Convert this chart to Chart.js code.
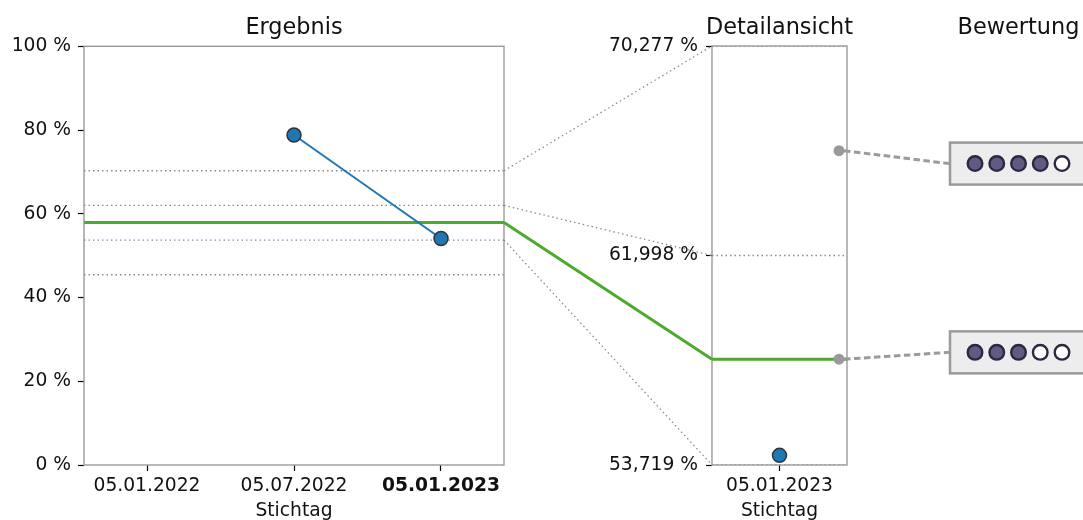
<!DOCTYPE html>
<html><head><meta charset="utf-8">
<script src="https://cdn.jsdelivr.net/npm/chart.js@4/dist/chart.umd.min.js"></script>
<style>
html,body{margin:0;padding:0;background:#fff;}
#wrap{position:relative;width:1083px;height:520px;overflow:hidden;background:#fff;}
#wrap canvas{position:absolute;left:0;top:0;}
</style></head><body>
<div id="wrap"><canvas id="main" width="1083" height="520"></canvas><canvas id="detail" width="1083" height="520"></canvas></div>
<script>
// ---- data ----
const dateLabels = ['05.01.2022', '05.07.2022', '05.01.2023'];
const resultDateIndex = [1, 2];
const resultValues = [78.8, 54.1];
const benchmarkValue = 57.9;
const bandLimits = [70.277, 61.998, 53.719, 45.44];
const mainYTicks = [0, 20, 40, 60, 80, 100];
const mainYTickLabels = ['0 %', '20 %', '40 %', '60 %', '80 %', '100 %'];
const detailYTicks = [53.719, 61.998, 70.277];
const detailYTickLabels = ['53,719 %', '61,998 %', '70,277 %'];
const detailDateLabels = ['05.01.2023'];
const detailResultValues = [54.1];
const ratingMarkerValues = [66.14, 57.9];
const ratingBoxValues = [65.63, 58.17];
const ratingScores = [4, 3];
const ratingMax = 5;
const titles = ['Ergebnis', 'Detailansicht', 'Bewertung'];
const axisTitle = 'Stichtag';

// ---- style ----
const FAM = "'DejaVu Sans', sans-serif";
const TXT = '#111';
const GREEN = '#4caa2e';
const BLUE = '#1f77b4';
const GRAY = '#8c8c8c';
const FRAME = '#9a9a9a';
const tickFont = {family: FAM, size: 18.7, lineHeight: 1.2};
const titleFont = {family: FAM, size: 22.4, weight: 'normal', lineHeight: 1.2};

const mainXMin = -0.4286, mainXMax = 2.4286;
const detXMin = -0.5, detXMax = 0.5;
const detMarkerX = 0.4407;
const boxX = 1.263;

const framePlugin = {
  id: 'frame',
  beforeDatasetsDraw(chart) {
    const a = chart.chartArea, ctx = chart.ctx;
    ctx.save();
    ctx.strokeStyle = FRAME; ctx.lineWidth = 1.4;
    ctx.strokeRect(a.left, a.top, a.right - a.left, a.bottom - a.top);
    ctx.restore();
  }
};

function axisCommon(extra) {
  return Object.assign({
    grid: {drawOnChartArea: false, drawTicks: true, tickLength: 6, tickColor: '#000', tickWidth: 1.2},
    border: {display: false}
  }, extra);
}

const mainChart = new Chart(document.getElementById('main'), {
  type: 'line',
  data: {datasets: [
    ...bandLimits.map(v => ({order: 3, data: [{x: mainXMin, y: v}, {x: mainXMax, y: v}], borderColor: GRAY, borderWidth: 1.3, borderDash: [1.5, 3], pointRadius: 0})),
    {order: 2, data: [{x: mainXMin, y: benchmarkValue}, {x: mainXMax, y: benchmarkValue}], borderColor: GREEN, borderWidth: 3, pointRadius: 0},
    {order: 0, data: resultDateIndex.map((d, i) => ({x: d, y: resultValues[i]})), borderColor: BLUE, borderWidth: 2, pointRadius: 7, pointBackgroundColor: BLUE, pointBorderColor: '#333', pointBorderWidth: 1.5}
  ]},
  options: {
    responsive: false, animation: false, devicePixelRatio: 1,
    events: [],
    layout: {padding: {left: 0, right: 1083 - 504, top: 14.4, bottom: 0}},
    plugins: {
      legend: {display: false}, tooltip: {enabled: false},
      title: {display: true, text: titles[0], fullSize: false, font: titleFont, color: TXT, padding: {top: 0, bottom: 5}}
    },
    scales: {
      x: axisCommon({
        type: 'linear', min: mainXMin, max: mainXMax,
        afterBuildTicks: s => { s.ticks = dateLabels.map((_, i) => ({value: i})); },
        ticks: {callback: v => dateLabels[v], color: TXT, padding: 4, maxRotation: 0, autoSkip: false,
          font: c => Object.assign({}, tickFont, {weight: (c.tick && c.tick.value === 2) ? 'bold' : 'normal'})},
        title: {display: true, text: axisTitle, font: Object.assign({}, tickFont, {lineHeight: 1}), color: TXT, padding: 0},
        afterFit: s => { s.height = 55; }
      }),
      y: axisCommon({
        type: 'linear', min: 0, max: 100,
        afterBuildTicks: s => { s.ticks = mainYTicks.map(v => ({value: v})); },
        ticks: {callback: (v, i) => mainYTickLabels[i], color: TXT, padding: 7, font: tickFont},
        afterFit: s => { s.width = 84; }
      })
    }
  },
  plugins: [framePlugin]
});

const detailPlugin = {
  id: 'detailExtras',
  beforeDatasetsDraw(chart) {
    const ctx = chart.ctx;
    const mA = mainChart.chartArea, mY = mainChart.scales.y;
    const dA = chart.chartArea, dY = chart.scales.y;
    ctx.save();
    ctx.strokeStyle = GRAY; ctx.lineWidth = 1.3; ctx.setLineDash([1.5, 3]);
    detailYTicks.forEach(v => {
      ctx.beginPath();
      ctx.moveTo(mA.right, mY.getPixelForValue(v));
      ctx.lineTo(dA.left, dY.getPixelForValue(v));
      ctx.stroke();
    });
    ctx.setLineDash([]);
    ctx.strokeStyle = GREEN; ctx.lineWidth = 3;
    ctx.beginPath();
    ctx.moveTo(mA.right, mY.getPixelForValue(benchmarkValue));
    ctx.lineTo(dA.left, dY.getPixelForValue(benchmarkValue));
    ctx.stroke();
    ctx.restore();
  },
  afterDraw(chart) {
    const ctx = chart.ctx;
    const dA = chart.chartArea, dY = chart.scales.y, dX = chart.scales.x;
    const mt = mainChart.titleBlock;
    const ty = mt ? (mt.top + (mt.height - 5) / 2) : (dA.top - 5 - 13.4);
    ctx.save();
    ctx.fillStyle = TXT;
    ctx.font = '22.4px ' + FAM;
    ctx.textAlign = 'center'; ctx.textBaseline = 'middle';
    ctx.fillText(titles[1], (dA.left + dA.right) / 2, ty);
    ctx.fillText(titles[2], 1018.5, ty);
    const bx = dX.getPixelForValue(boxX);
    ratingMarkerValues.forEach((v, i) => {
      const px = dX.getPixelForValue(detMarkerX), py = dY.getPixelForValue(v);
      const by = dY.getPixelForValue(ratingBoxValues[i]);
      ctx.strokeStyle = '#9a9a9a'; ctx.lineWidth = 3; ctx.setLineDash([6.5, 3.5]);
      ctx.beginPath(); ctx.moveTo(px + 5, py); ctx.lineTo(bx - 1, by); ctx.stroke();
      ctx.setLineDash([]);
      ctx.fillStyle = '#ededed';
      ctx.fillRect(bx, by - 21, 140, 42);
      ctx.strokeStyle = '#9a9a9a'; ctx.lineWidth = 2.5;
      ctx.strokeRect(bx, by - 21, 140, 42);
      for (let k = 0; k < ratingMax; k++) {
        const cx = bx + 25 + k * 21.75;
        ctx.beginPath(); ctx.arc(cx, by, 7.3, 0, Math.PI * 2);
        ctx.fillStyle = k < ratingScores[i] ? '#5f5b82' : '#ffffff';
        ctx.fill();
        ctx.strokeStyle = '#2b2942'; ctx.lineWidth = 2.4;
        ctx.stroke();
      }
    });
    ctx.restore();
  }
};

const detailChart = new Chart(document.getElementById('detail'), {
  type: 'line',
  data: {datasets: [
    ...detailYTicks.map(v => ({order: 3, data: [{x: detXMin, y: v}, {x: detXMax, y: v}], borderColor: GRAY, borderWidth: 1.3, borderDash: [1.5, 3], pointRadius: 0})),
    {order: 2, data: [{x: detXMin, y: benchmarkValue}, {x: detXMax, y: benchmarkValue}], borderColor: GREEN, borderWidth: 3, pointRadius: 0},
    {order: 1, data: ratingMarkerValues.map(v => ({x: detMarkerX, y: v})), showLine: false, pointRadius: 5.5, pointBackgroundColor: '#999999', pointBorderWidth: 0},
    {order: 0, data: detailResultValues.map(v => ({x: 0, y: v})), showLine: false, pointRadius: 7, pointBackgroundColor: BLUE, pointBorderColor: '#333', pointBorderWidth: 1.5}
  ]},
  options: {
    responsive: false, animation: false, devicePixelRatio: 1,
    events: [],
    layout: {padding: {left: 712 - 120, right: 1083 - 847, top: 46, bottom: 0}},
    plugins: {
      legend: {display: false}, tooltip: {enabled: false}, title: {display: false}
    },
    scales: {
      x: axisCommon({
        type: 'linear', min: detXMin, max: detXMax,
        afterBuildTicks: s => { s.ticks = detailDateLabels.map((_, i) => ({value: i})); },
        ticks: {callback: v => detailDateLabels[v], color: TXT, padding: 4, maxRotation: 0, autoSkip: false, font: tickFont},
        title: {display: true, text: axisTitle, font: Object.assign({}, tickFont, {lineHeight: 1}), color: TXT, padding: 0},
        afterFit: s => { s.height = 55; }
      }),
      y: axisCommon({
        type: 'linear', min: detailYTicks[0], max: detailYTicks[2],
        afterBuildTicks: s => { s.ticks = detailYTicks.map(v => ({value: v})); },
        ticks: {callback: (v, i) => detailYTickLabels[i], color: TXT, padding: 8, font: tickFont},
        afterFit: s => { s.width = 120; }
      })
    }
  },
  plugins: [framePlugin, detailPlugin]
});
</script>
</body></html>
